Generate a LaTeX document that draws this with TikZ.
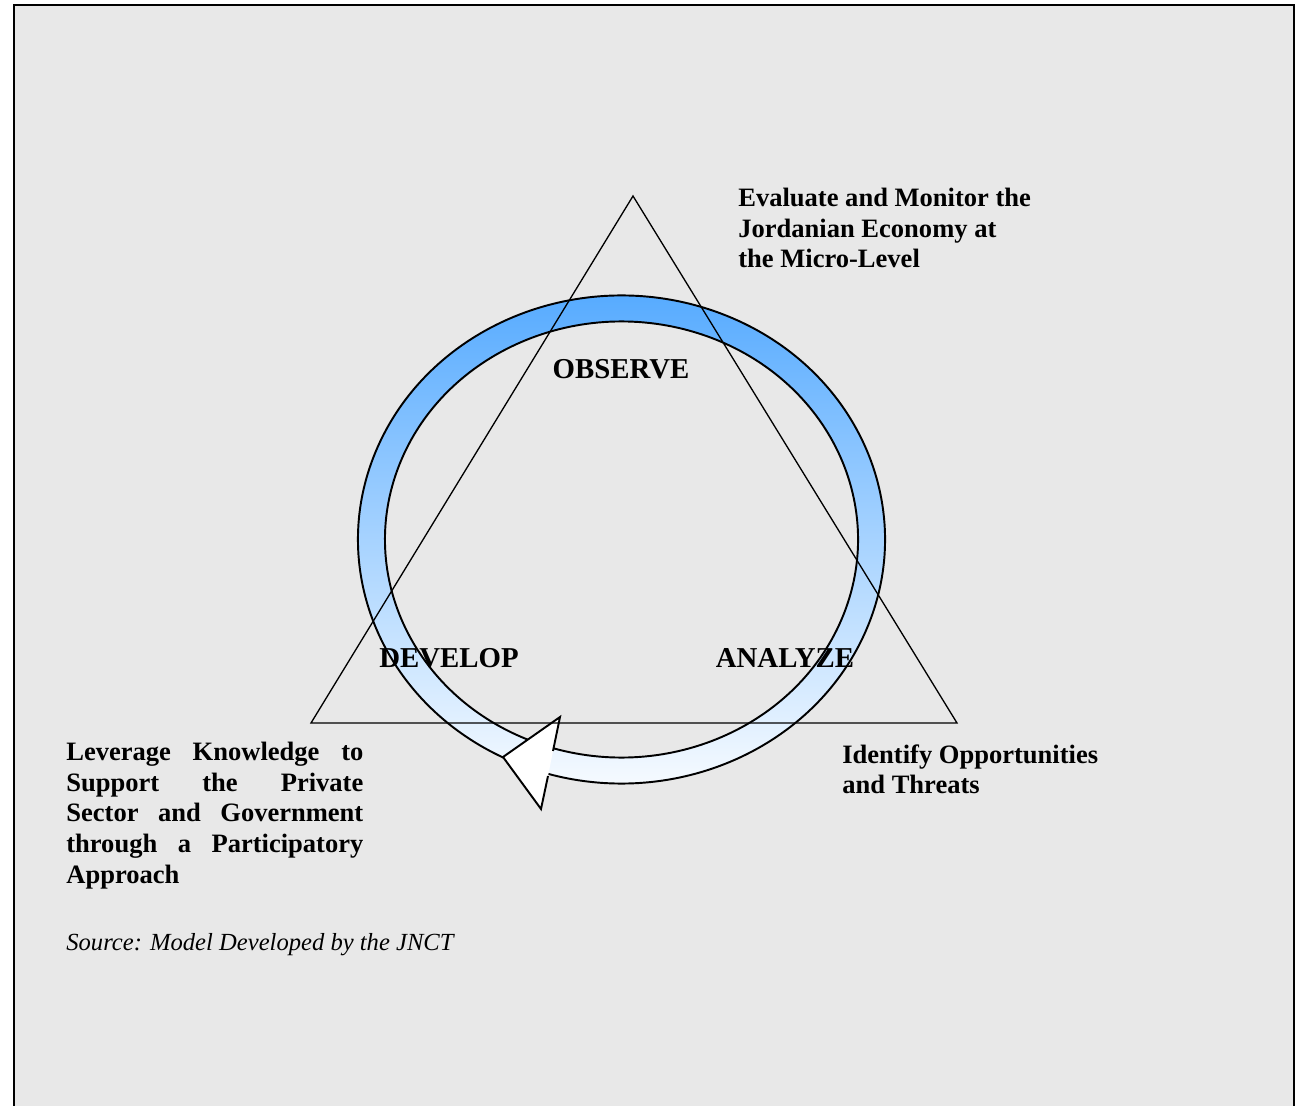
\documentclass[tikz,border=0pt]{standalone}
\usepackage{fontspec}
\setmainfont{Liberation Serif}
\usetikzlibrary{positioning}
\definecolor{panelgray}{RGB}{232,232,232}
\definecolor{ringblue}{RGB}{77,166,255}
\tikzset{
    stage/.style={ % the three words inside the triangle
        font=\fontsize{16.4}{19}\selectfont\bfseries,
        inner sep=0pt
    },
    note/.style={ % the bold texts at the corners
        font=\fontsize{15.1}{17.4}\selectfont\bfseries,
        inner sep=0pt,
        anchor=north west,
        align=left
    },
    ring/.style={ % the shaded cycle arrow
        draw=black,
        line width=1.1pt,
        top color=ringblue,
        bottom color=white
    }
}

\begin{document}
\begin{tikzpicture}
    \useasboundingbox (0,0) rectangle (25.9,22.1);
    \fill[white] (0,0) rectangle (25.9,22.1);
    \filldraw[fill=panelgray, line width=1.5pt] (0.28,-0.5) |- (25.88,22.0) -- (25.88,-0.5);

    % cycle arrow
    \coordinate (c) at (12.43,11.31);
    \begin{scope}[shift={(c)}]
        \shade[ring] (248:5.27 and 4.88)
            arc[start angle=248, end angle=-110, x radius=5.27, y radius=4.88]
            -- (-110:4.73 and 4.36)
            arc[start angle=-110, end angle=248, x radius=4.73, y radius=4.36]
            -- cycle;
    \end{scope}
    \coordinate (tip) at (10.06,6.96);
    \coordinate (ub) at (11.20,7.76);
    \coordinate (un) at (11.06,7.08);
    \coordinate (ln) at (10.96,6.58);
    \coordinate (lb) at (10.82,5.92);
    \fill[white] (tip) -- (ub) -- (un) -- (ln) -- (lb) -- cycle;
    \draw[line width=1.1pt, line join=miter] (un) -- (ub) -- (tip) -- (lb) -- (ln);

    % stages
    \node[stage] (observe) at (12.42,14.72) {OBSERVE};
    \node[stage] (develop) at (8.98,8.94) {DEVELOP};
    \node[stage] (analyze) at (15.70,8.94) {ANALYZE};

    % corner texts
    \node[note] (evaluate) at (14.76,18.34) {Evaluate and Monitor the\\Jordanian Economy at\\the Micro-Level};
    \node[note, align=justify, text width=5.94cm] (leverage) at (1.32,7.26)
        {Leverage Knowledge to\linebreak Support the Private\linebreak Sector and Government\linebreak through a Participatory\linebreak Approach};
    \node[note] (identify) at (16.84,7.22) {Identify Opportunities\\and Threats};
    \node[anchor=base west, inner sep=0pt, font=\fontsize{14}{17}\selectfont\itshape] (source) at (1.32,3.10)
        {Source: Model Developed by the JNCT};

    % triangle
    \coordinate (apex) at (12.66,18.18);
    \coordinate (bl) at (6.22,7.64);
    \coordinate (br) at (19.14,7.64);
    \draw[line width=0.75pt] (apex) -- (br) -- (bl) -- cycle;
\end{tikzpicture}
\end{document}
